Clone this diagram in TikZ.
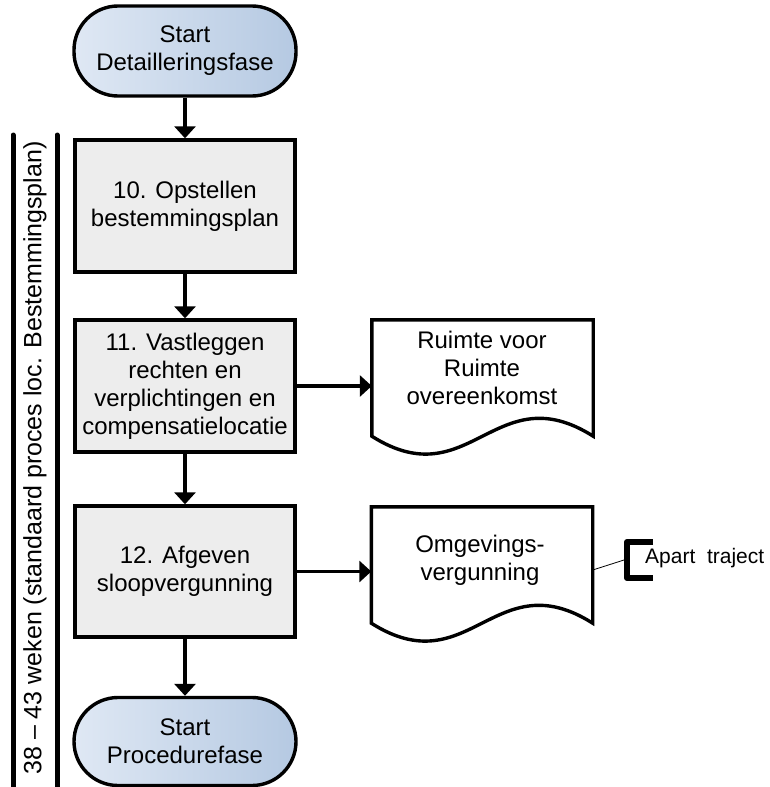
\documentclass[tikz,border=0pt]{standalone}
\usepackage{fontspec}
\setmainfont{Liberation Sans}
\usetikzlibrary{arrows.meta,calc}
\definecolor{boxgray}{HTML}{EDEDED}
\definecolor{termL}{HTML}{DFE8F4}
\definecolor{termR}{HTML}{B5C9E2}
\begin{document}
\begin{tikzpicture}[x=1pt,y=-1pt,
  txt/.style={font=\fontsize{24}{28}\selectfont, align=center, inner sep=0pt},
  procbox/.style={draw, line width=3.4pt, fill=boxgray, minimum width=220pt, minimum height=132pt, txt},
  term/.style={draw, line width=3.4pt, rounded corners=44pt, left color=termL, right color=termR, minimum width=222pt, minimum height=90pt, txt},
  flow/.style={line width=3.4pt, -{Triangle[length=12pt,width=21pt]}},
  docshape/.style={minimum width=221pt, minimum height=116pt, inner sep=0pt},
  docline/.style={line width=3.4pt},
  bar/.style={line width=5pt, line cap=round},
]
\useasboundingbox (0,0) rectangle (770,787);

% terminals and process boxes
\node[term] (s1) at (185,51) {Start\\Detailleringsfase};
\node[procbox] (b10) at (185,206) {10. Opstellen\\bestemmingsplan};
\node[procbox] (b11) at (185,386) {11. Vastleggen\\rechten en\\verplichtingen en\\compensatielocatie};
\node[procbox, minimum height=131pt] (b12) at (185,571.5) {12. Afgeven\\sloopvergunning};
\node[term, minimum height=88pt] (s2) at (185,741.5) {Start\\Procedurefase};

% documents
\node[docshape] (d1) at (482.5,378) {};
\draw[docline] (d1.south east) .. controls +(-98,-62) and +(98,62) .. (d1.south west)
  -- (d1.north west) -- (d1.north east) -- cycle;
\node[txt] (d1t) at (482,367.5) {Ruimte voor\\Ruimte\\overeenkomst};

\node[docshape] (d2) at (482,565) {};
\draw[docline] (d2.south east) .. controls +(-98,-62) and +(98,62) .. (d2.south west)
  -- (d2.north west) -- (d2.north east) -- cycle;
\node[txt] (d2t) at (480,560) {Omgevings-\\vergunning};

% connectors
\draw[flow] (s1) -- (b10);
\draw[flow] (b10) -- (b11);
\draw[flow] (b11) -- (b12);
\draw[flow] (b12) -- (s2);
\draw[flow] (b11.east) -- (b11.east -| d1.west);
\draw[flow] (b12.east) -- (b12.east -| d2.west);

% side bars and label
\draw[bar] (13,135) -- (13,790);
\draw[bar] (57,135) -- (57,790);
\node[txt, font=\fontsize{25}{28}\selectfont, rotate=90] (lbl) at (35,458) {38 – 43 weken (standaard proces loc. Bestemmingsplan)};

% annotation
\draw[line width=6pt, line join=round] (653,542) -- (627,542) -- (627,578) -- (653,578);
\coordinate (brk) at (624,560);
\draw[line width=0.8pt] ([yshift=-5pt]d2.east) -- (brk);
\node[font=\fontsize{21}{24}\selectfont, anchor=west, inner sep=0pt] (apart) at (645,558) {Apart\ \ traject};
\end{tikzpicture}
\end{document}
